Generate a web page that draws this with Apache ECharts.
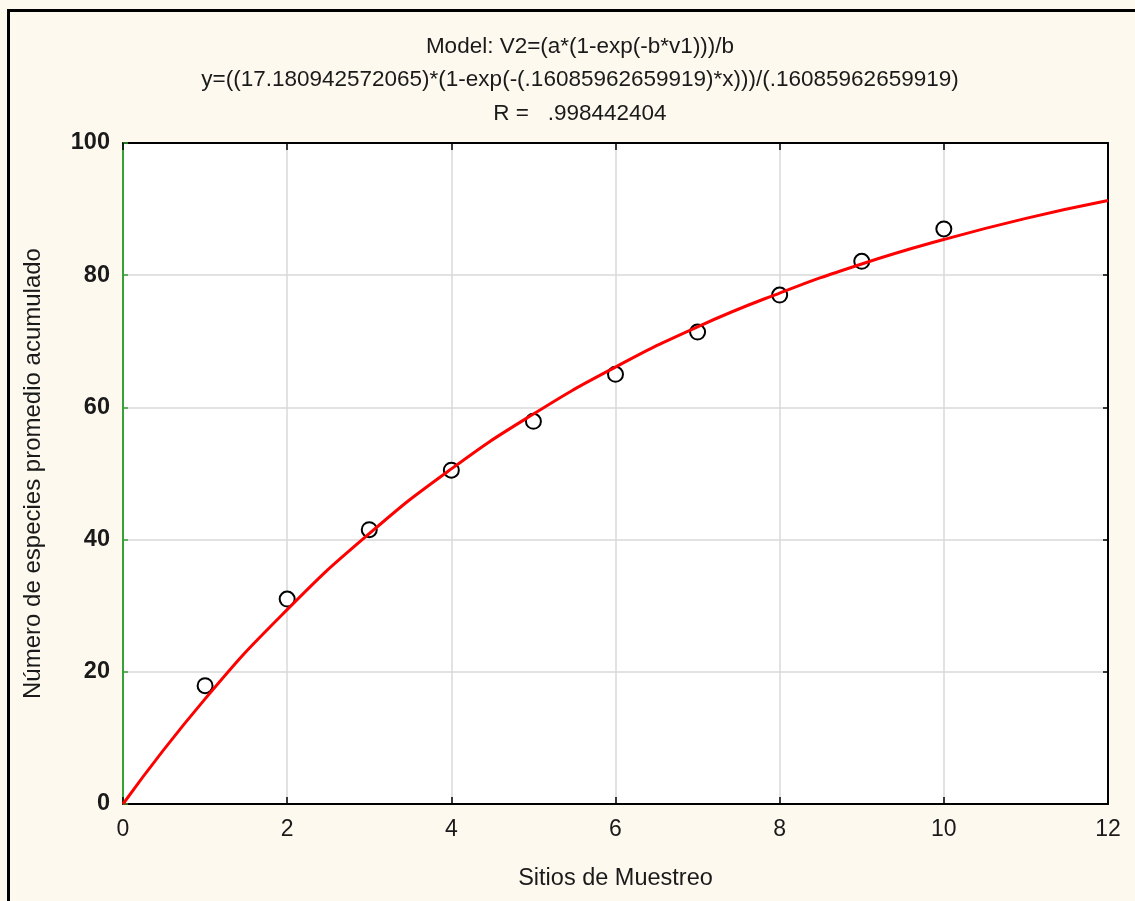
<!DOCTYPE html>
<html>
<head>
<meta charset="utf-8">
<script src="https://cdn.jsdelivr.net/npm/echarts@6/dist/echarts.min.js"></script>
<style>
  html, body { margin: 0; padding: 0; background: #fdf9ef; }
  #chart { width: 1135px; height: 901px; }
</style>
</head>
<body>
<div id="chart"></div>
<script>
// puntos observados (sitios, especies acumuladas)
const sitios = [1, 2, 3, 4, 5, 6, 7, 8, 9, 10]
const especies = [17.9, 31.0, 41.5, 50.5, 57.9, 65.0, 71.4, 77.0, 82.1, 87.0]

// curva ajustada
const curvaX = [0, 1, 2, 3, 4, 5, 6, 7, 8, 9, 10, 11, 12]
const curvaY = [0, 15.9, 29.4, 40.9, 50.7, 59.0, 66.1, 72.2, 77.3, 81.7, 85.4, 88.6, 91.3]

const titulo = [
  'Model: V2=(a*(1-exp(-b*v1)))/b',
  'y=((17.180942572065)*(1-exp(-(.16085962659919)*x)))/(.16085962659919)',
  'R =   .998442404'
]

const chart = echarts.init(document.getElementById('chart'))
const font = '"Liberation Sans", Arial, sans-serif'
const texto = '#1a1a1a'

chart.setOption({
  backgroundColor: '#fdf9ef',
  animation: false,
  textStyle: { fontFamily: font },
  title: {
    text: titulo.join('\n'),
    left: 575,
    top: 25,
    textAlign: 'center',
    textStyle: { fontSize: 22.5, fontWeight: 'normal', color: texto, lineHeight: 33.5, fontFamily: font }
  },
  graphic: [
    {
      type: 'rect',
      shape: { x: 8.5, y: 10.5, width: 1200, height: 1000 },
      style: { fill: 'none', stroke: '#000', lineWidth: 3 },
      silent: true
    }
  ],
  grid: {
    left: 123, right: 27, top: 143, bottom: 97,
    show: true, backgroundColor: '#fff', borderWidth: 0
  },
  xAxis: [
    {
      type: 'value', min: 0, max: 12, interval: 2,
      name: 'Sitios de Muestreo', nameLocation: 'middle', nameGap: 63,
      nameTextStyle: { fontSize: 23.5, color: texto },
      axisLine: { show: true, onZero: false, lineStyle: { color: '#000', width: 2 } },
      axisTick: { show: true, inside: true, length: 7, lineStyle: { color: '#000', width: 1.5 } },
      axisLabel: { fontSize: 23, color: texto, margin: 14 },
      splitLine: { show: true, lineStyle: { color: '#d9d9d9', width: 1.5 } }
    },
    {
      type: 'value', min: 0, max: 12, interval: 2, position: 'top',
      axisLine: { show: true, onZero: false, lineStyle: { color: '#000', width: 2 } },
      axisTick: { show: true, inside: true, length: 7, lineStyle: { color: '#000', width: 1.5 } },
      axisLabel: { show: false },
      splitLine: { show: false }
    }
  ],
  yAxis: [
    {
      type: 'value', min: 0, max: 100, interval: 20,
      name: 'Número de especies promedio acumulado', nameLocation: 'middle', nameGap: 78,
      nameTextStyle: { fontSize: 24, color: texto },
      axisLine: { show: true, onZero: false, lineStyle: { color: '#37a037', width: 2 } },
      axisTick: { show: true, inside: true, length: 5, lineStyle: { color: '#37a037', width: 1.5 } },
      axisLabel: { fontSize: 23.5, fontWeight: 'bold', color: texto, margin: 13 },
      splitLine: { show: true, lineStyle: { color: '#d9d9d9', width: 1.5 } }
    },
    {
      type: 'value', min: 0, max: 100, interval: 20, position: 'right',
      axisLine: { show: true, onZero: false, lineStyle: { color: '#000', width: 2 } },
      axisTick: { show: true, inside: true, length: 5, lineStyle: { color: '#000', width: 1.5 } },
      axisLabel: { show: false },
      splitLine: { show: false }
    }
  ],
  series: [
    {
      type: 'scatter',
      data: sitios.map((x, i) => [x, especies[i]]),
      symbol: 'emptyCircle',
      symbolSize: 15,
      itemStyle: { color: '#000', borderColor: '#000', borderWidth: 3, opacity: 1 },
      z: 2
    },
    {
      type: 'line',
      data: curvaX.map((x, i) => [x, curvaY[i]]),
      smooth: true,
      showSymbol: false,
      lineStyle: { color: '#ff0000', width: 3 },
      z: 3
    }
  ]
})
</script>
</body>
</html>
